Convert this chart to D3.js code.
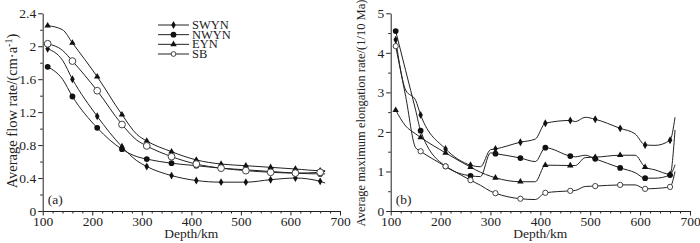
<!DOCTYPE html>
<html>
<head>
<meta charset="utf-8">
<script src="https://cdn.jsdelivr.net/npm/d3@7"></script>
<style>
  body { margin: 0; background: #fff; }
  svg { display: block; }
  svg text { font-family: "Liberation Serif", "Times New Roman", Times, serif; fill: #222; }
  .axis path, .axis line { stroke: #222; }
  .axis text { font-size: 13.5px; font-family: "Liberation Serif", "Times New Roman", Times, serif; fill: #222; }
</style>
</head>
<body>
<div id="chart"></div>
<script>
// depths where symbols are drawn
const markerDepths = [110, 160, 210, 260, 310, 360, 410, 460, 510, 560, 610, 660];
const seriesNames = ['SWYN', 'NWYN', 'EYN', 'SB'];

// panel (a): average flow rate, cm/a
const flowDepth = [110, 140, 160, 210, 260, 290, 310, 360, 410, 460, 510, 560, 610, 660, 670];
const flowSWYN = [1.97, 1.83, 1.60, 1.15, 0.78, 0.61, 0.54, 0.43, 0.37, 0.35, 0.35, 0.38, 0.40, 0.36, 0.34];
const flowNWYN = [1.75, 1.60, 1.39, 1.01, 0.75, 0.66, 0.63, 0.58, 0.55, 0.52, 0.50, 0.48, 0.46, 0.45, 0.45];
const flowEYN  = [2.25, 2.20, 2.04, 1.63, 1.17, 0.93, 0.85, 0.72, 0.62, 0.57, 0.55, 0.53, 0.51, 0.49, 0.49];
const flowSB   = [2.03, 1.95, 1.82, 1.46, 1.05, 0.86, 0.79, 0.66, 0.57, 0.52, 0.49, 0.47, 0.46, 0.47, 0.48];
const flowTicks = [0, 0.4, 0.8, 1.2, 1.6, 2, 2.4];

// panel (b): average maximum elongation rate, 1/10 Ma
const elongDepth = [110, 130, 150, 160, 210, 260, 280, 300, 310, 360, 390, 410, 460, 470, 490, 510, 560, 590, 610, 630, 660, 670];
const elongSWYN = [4.33, 3.06, 2.80, 2.43, 1.57, 1.16, 1.12, 1.55, 1.57, 1.74, 1.82, 2.22, 2.29, 2.26, 2.37, 2.32, 2.09, 1.95, 1.67, 1.66, 1.79, 2.37];
const elongNWYN = [4.55, 3.55, 2.55, 2.03, 1.13, 0.89, 0.87, 1.47, 1.45, 1.34, 1.25, 1.60, 1.39, 1.37, 1.41, 1.32, 1.09, 0.97, 0.83, 0.83, 0.91, 2.05];
const elongEYN  = [2.55, 2.15, 1.95, 1.86, 1.47, 1.11, 0.98, 0.88, 0.84, 0.74, 0.74, 1.16, 1.15, 1.15, 1.35, 1.36, 1.41, 1.41, 1.11, 1.04, 0.93, 1.17];
const elongSB   = [4.17, 2.90, 1.60, 1.51, 1.13, 0.78, 0.65, 0.50, 0.45, 0.31, 0.29, 0.46, 0.51, 0.52, 0.62, 0.63, 0.66, 0.66, 0.56, 0.57, 0.61, 1.00];
const elongTicks = [0, 1, 2, 3, 4, 5];

const depthTicks = [100, 200, 300, 400, 500, 600, 700];

const svg = d3.select('#chart').append('svg')
    .attr('width', 700)
    .attr('height', 243);

function Panel(config) {
    this.left = config.left;
    this.right = config.right;
    this.top = 13.3;
    this.bottom = 211;
    this.depth = config.depth;
    this.series = config.series;
    this.yMax = config.yMax;
    this.yTicks = config.yTicks;
    this.yMinor = config.yMinor;
    this.yLabel = config.yLabel;
    this.yLabelX = config.yLabelX;
    this.yLabelY = config.yLabelY;
    this.yLabelSize = config.yLabelSize;
    this.tag = config.tag;
    this.sbSize = config.sbSize;
    this.g = svg.append('g');

    this.x = d3.scaleLinear().domain([100, 700]).range([this.left, this.right]);
    this.y = d3.scaleLinear().domain([0, this.yMax]).range([this.bottom, this.top]);
}

Panel.prototype.draw = function() {
    this.drawAxes();
    this.drawLines();
};

Panel.prototype.drawAxes = function() {
    let minorX = d3.range(100, 701, 20).filter(function(d) { return d % 100 != 0; });
    let minorY = d3.range(this.yMinor, this.yMax, this.yMinor * 2);

    // minor ticks first, so the major axes draw over them
    this.g.append('g')
        .attr('class', 'axis')
        .attr('transform', 'translate(0,' + this.bottom + ')')
        .call(d3.axisBottom(this.x).tickValues(minorX).tickSize(2.5).tickFormat(''))
        .select('.domain').remove();
    this.g.append('g')
        .attr('class', 'axis')
        .attr('transform', 'translate(' + this.left + ',0)')
        .call(d3.axisLeft(this.y).tickValues(minorY).tickSize(2.5).tickFormat(''))
        .select('.domain').remove();

    this.g.append('g')
        .attr('class', 'axis')
        .attr('transform', 'translate(0,' + this.bottom + ')')
        .call(d3.axisBottom(this.x).tickValues(depthTicks).tickSize(4.5).tickSizeOuter(0).tickPadding(1));
    this.g.append('g')
        .attr('class', 'axis')
        .attr('transform', 'translate(' + this.left + ',0)')
        .call(d3.axisLeft(this.y).tickValues(this.yTicks).tickSize(4.5).tickSizeOuter(0).tickPadding(2)
            .tickFormat(function(d) { return String(d); }));

    this.g.append('text')
        .attr('x', (this.left + this.right) / 2)
        .attr('y', 238)
        .attr('text-anchor', 'middle')
        .style('font-size', '13.5px')
        .text('Depth/km');

    this.g.append('text')
        .attr('transform', 'translate(' + this.yLabelX + ',' + this.yLabelY + ') rotate(-90)')
        .attr('text-anchor', 'middle')
        .style('font-size', this.yLabelSize + 'px')
        .html(this.yLabel);

    this.g.append('text')
        .attr('x', this.left + 5)
        .attr('y', 204)
        .style('font-size', '13.5px')
        .text(this.tag);
};

Panel.prototype.drawLines = function() {
    let self = this;
    let line = d3.line()
        .x(function(d) { return self.x(d.depth); })
        .y(function(d) { return self.y(d.value); })
        .curve(d3.curveMonotoneX);

    this.series.forEach(function(s) {
        let pts = self.depth.map(function(d, i) { return { depth: d, value: s.values[i] }; });
        self.g.append('path')
            .attr('d', line(pts))
            .attr('fill', 'none')
            .attr('stroke', '#222')
            .attr('stroke-width', 1);

        let marks = pts.filter(function(p) { return markerDepths.indexOf(p.depth) >= 0; });
        self.g.selectAll(null)
            .data(marks)
            .enter()
            .append('path')
            .attr('transform', function(p) { return 'translate(' + self.x(p.depth) + ',' + self.y(p.value) + ')'; })
            .call(styleSymbol, s.name, self.sbSize);
    });
};

function styleSymbol(sel, name, sbSize) {
    if (name == 'SWYN') {
        sel.attr('d', d3.symbol(d3.symbolDiamond, 18)()).attr('fill', '#111');
    } else if (name == 'NWYN') {
        sel.attr('d', d3.symbol(d3.symbolCircle, 26)()).attr('fill', '#111');
    } else if (name == 'EYN') {
        sel.attr('d', d3.symbol(d3.symbolTriangle, 18)()).attr('fill', '#111');
    } else {
        sel.attr('d', d3.symbol(d3.symbolCircle, sbSize)())
            .attr('fill', '#fff')
            .attr('stroke', '#444')
            .attr('stroke-width', 1);
    }
}

let panelA = new Panel({
    left: 42.7, right: 340,
    depth: flowDepth,
    series: [
        { name: 'SWYN', values: flowSWYN },
        { name: 'NWYN', values: flowNWYN },
        { name: 'EYN', values: flowEYN },
        { name: 'SB', values: flowSB }
    ],
    yMax: 2.4, yTicks: flowTicks, yMinor: 0.2,
    yLabel: 'Average flow rate/(cm·a<tspan dy="-5" font-size="10">-1</tspan><tspan dy="5">)</tspan>',
    yLabelX: 17, yLabelY: 111, yLabelSize: 14.5,
    tag: '(a)',
    sbSize: 36
});
panelA.draw();

let panelB = new Panel({
    left: 390.7, right: 690,
    depth: elongDepth,
    series: [
        { name: 'SWYN', values: elongSWYN },
        { name: 'NWYN', values: elongNWYN },
        { name: 'EYN', values: elongEYN },
        { name: 'SB', values: elongSB }
    ],
    yMax: 5, yTicks: elongTicks, yMinor: 0.5,
    yLabel: 'Average maximum elongation rate/(1/10 Ma)',
    yLabelX: 365, yLabelY: 113, yLabelSize: 12.5,
    tag: '(b)',
    sbSize: 22
});
panelB.draw();

// legend in panel (a)
let legend = svg.append('g');
let legendY = d3.scalePoint().domain(seriesNames).range([25, 54]);
seriesNames.forEach(function(name) {
    let yy = legendY(name);
    legend.append('line')
        .attr('x1', 158).attr('x2', 189)
        .attr('y1', yy).attr('y2', yy)
        .attr('stroke', '#222').attr('stroke-width', 1);
    legend.append('path')
        .attr('transform', 'translate(' + 173.5 + ',' + yy + ')')
        .call(styleSymbol, name, 18);
    legend.append('text')
        .attr('x', 192)
        .attr('y', yy + 4)
        .style('font-size', '12.5px')
        .text(name);
});
</script>
</body>
</html>
